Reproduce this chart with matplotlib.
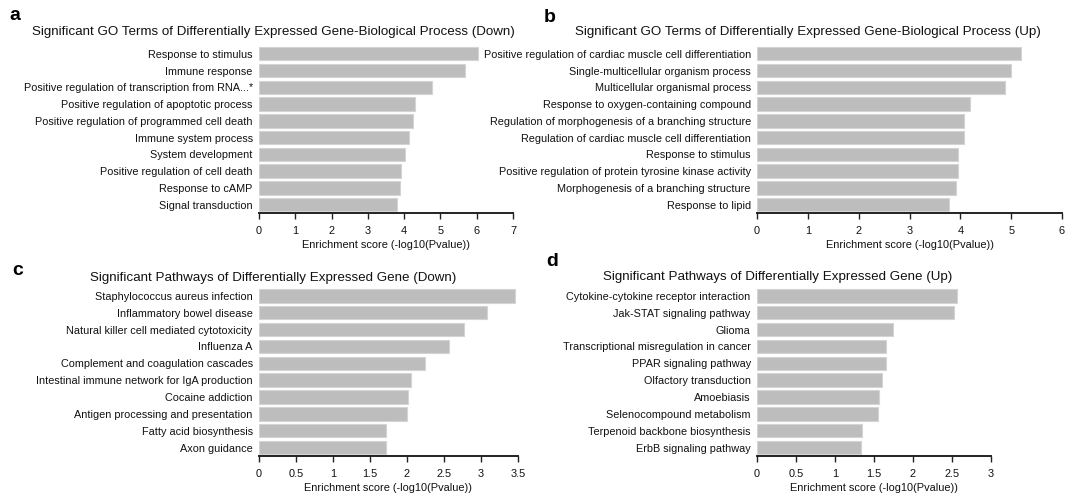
import matplotlib
matplotlib.use("Agg")
import matplotlib.pyplot as plt
import numpy as np

plt.rcParams['font.family'] = ['Liberation Sans', 'DejaVu Sans']

terms_a = ["Response to stimulus", "Immune response",
           "Positive regulation of transcription from RNA...*",
           "Positive regulation of apoptotic process",
           "Positive regulation of programmed cell death",
           "Immune system process", "System development",
           "Positive regulation of cell death", "Response to cAMP",
           "Signal transduction"]
scores_a = [6.03, 5.69, 4.78, 4.30, 4.25, 4.14, 4.01, 3.91, 3.89, 3.79]

terms_b = ["Positive regulation of cardiac muscle cell differentiation",
           "Single-multicellular organism process",
           "Multicellular organismal process",
           "Response to oxygen-containing compound",
           "Regulation of morphogenesis of a branching structure",
           "Regulation of cardiac muscle cell differentiation",
           "Response to stimulus",
           "Positive regulation of protein tyrosine kinase activity",
           "Morphogenesis of a branching structure", "Response to lipid"]
scores_b = [5.19, 5.00, 4.88, 4.19, 4.07, 4.07, 3.96, 3.95, 3.91, 3.78]

terms_c = ["Staphylococcus aureus infection", "Inflammatory bowel disease",
           "Natural killer cell mediated cytotoxicity", "Influenza A",
           "Complement and coagulation cascades",
           "Intestinal immune network for IgA production",
           "Cocaine addiction", "Antigen processing and presentation",
           "Fatty acid biosynthesis", "Axon guidance"]
scores_c = [3.46, 3.08, 2.77, 2.57, 2.24, 2.06, 2.02, 2.00, 1.72, 1.72]

terms_d = ["Cytokine-cytokine receptor interaction", "Jak-STAT signaling pathway",
           "Glioma", "Transcriptional misregulation in cancer",
           "PPAR signaling pathway", "Olfactory transduction", "Amoebiasis",
           "Selenocompound metabolism", "Terpenoid backbone biosynthesis",
           "ErbB signaling pathway"]
scores_d = [2.56, 2.53, 1.74, 1.66, 1.65, 1.60, 1.56, 1.55, 1.34, 1.33]

titles = ["Significant GO Terms of Differentially Expressed Gene-Biological Process (Down)",
          "Significant GO Terms of Differentially Expressed Gene-Biological Process (Up)",
          "Significant Pathways of Differentially Expressed Gene (Down)",
          "Significant Pathways of Differentially Expressed Gene (Up)"]
letters = ["a", "b", "c", "d"]
xmax = [7, 6, 3.5, 3]
xticks = [list(range(0, 8)), list(range(0, 7)),
          [0, 0.5, 1, 1.5, 2, 2.5, 3, 3.5], [0, 0.5, 1, 1.5, 2, 2.5, 3]]
xticklabels = [[str(t) for t in xticks[0]], [str(t) for t in xticks[1]],
               ["0", "0.5", "1", "1.5", "2", "2.5", "3", "3.5"],
               ["0", "0.5", "1", "1.5", "2", "2.5", "3"]]

W, H = 1065, 494
fig = plt.figure(figsize=(W / 100, H / 100), dpi=100)

# axes boxes in pixels: left, right, top, bottom
boxes = [(259, 513, 45.4, 213), (757, 1062, 45.4, 213),
         (259, 518, 287.4, 456), (757, 991, 287.4, 456)]
title_pos = [(32, 32), (575, 32), (90, 278), (603, 277)]
letter_pos = [(9, 16), (544, 17), (12, 270), (546, 261)]

data = [(terms_a, scores_a), (terms_b, scores_b), (terms_c, scores_c), (terms_d, scores_d)]

for i, (terms, scores) in enumerate(data):
    l, r, t, b = boxes[i]
    ax = fig.add_axes([l / W, (H - b) / H, (r - l) / W, (b - t) / H])
    y = np.arange(len(terms))
    ax.barh(y, scores, height=0.8, color='#bdbdbd', edgecolor='#d4d4d4', linewidth=0.8)
    ax.set_ylim(len(terms) - 0.5, -0.5)
    ax.set_xlim(0, xmax[i])
    ax.set_yticks(y)
    ax.set_yticklabels(terms, fontsize=7.8, color='#111111')
    ax.tick_params(axis='y', length=0, pad=4.5)
    ax.set_xticks(xticks[i])
    ax.set_xticklabels(xticklabels[i], fontsize=7.9, color='#111111')
    ax.tick_params(axis='x', length=4, width=1, direction='out', pad=5, color='#222222')
    for s in ['top', 'right', 'left']:
        ax.spines[s].set_visible(False)
    ax.spines['bottom'].set_linewidth(1.4)
    ax.spines['bottom'].set_color('#222222')
    ax.set_xlabel("Enrichment score (-log10(Pvalue))", fontsize=7.9, labelpad=3,
                  color='#111111')
    fig.text(title_pos[i][0] / W, 1 - title_pos[i][1] / H, titles[i],
             fontsize=9.65, ha='left', va='center', color='#111111')
    fig.text(letter_pos[i][0] / W, 1 - letter_pos[i][1] / H, letters[i],
             fontsize=14, fontweight='bold', ha='left', va='center')

fig.savefig("out.png", dpi=100)
